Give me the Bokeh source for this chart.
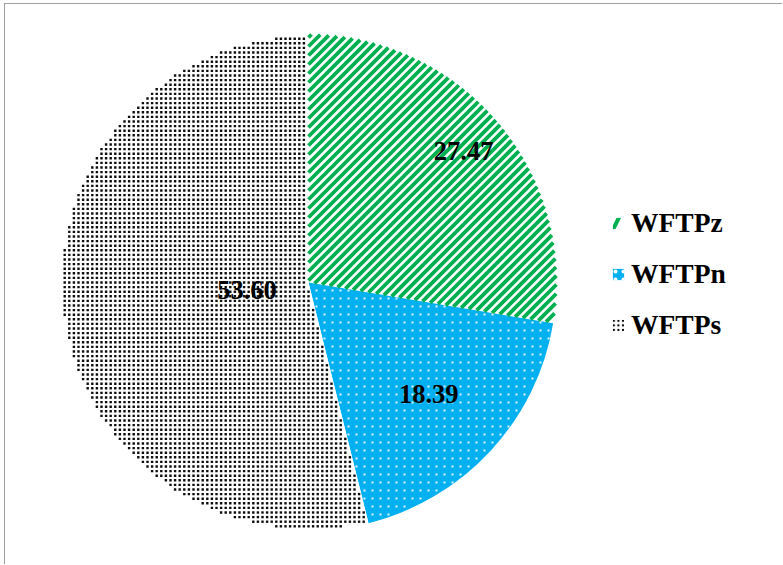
import math
from bokeh.plotting import figure
from bokeh.models import ColumnDataSource, Legend, LegendItem, Range1d
from bokeh.core.properties import value
from bokeh.embed import file_html
from bokeh.resources import INLINE

# ---- data ----
categories = ["WFTPz", "WFTPn", "WFTPs"]
values = [27.47, 18.39, 53.60]
labels = ["27.47", "18.39", "53.60"]

# ---- style ----
fills = ["white", "#00B0F0", "white"]
pattern_colors = ["#00B050", "white", "black"]
label_r_frac = [0.82, 0.66, 0.25]
stripe_period = 9.0
stripe_width = 3.8
blue_dot_period = 8.0
blue_dot_size = 2.0
gray_dot_period = 4.6
gray_dot_size = 2.4

W, H = 778, 561
cx, cy, R = 303, 283, 248

total = sum(values)
starts, ends, mids = [], [], []
cum = 0.0
for v in values:
    a0 = math.pi / 2 - 2 * math.pi * cum / total
    cum += v
    a1 = math.pi / 2 - 2 * math.pi * cum / total
    starts.append(a0)
    ends.append(a1)
    mids.append((a0 + a1) / 2)


def in_sector(dx, dy, a_hi, a_lo):
    th = math.atan2(dy, dx)
    while th < a_lo:
        th += 2 * math.pi
    while th >= a_lo + 2 * math.pi:
        th -= 2 * math.pi
    return th <= a_hi


def cross(u, d):
    return u[0] * d[1] - u[1] * d[0]


def stripes_in_sector(a_hi, a_lo, period):
    # 45-degree stripes (d.y - d.x = k) clipped to a convex sector
    us = (math.cos(a_hi), math.sin(a_hi))
    ue = (math.cos(a_lo), math.sin(a_lo))
    v = (1 / math.sqrt(2), 1 / math.sqrt(2))
    xs, ys = [], []
    kmax = R * math.sqrt(2)
    n = int(kmax // period) + 1
    for j in range(-n, n + 1):
        k = j * period + 2.0
        if abs(k) >= kmax:
            continue
        h = math.sqrt(R * R - k * k / 2)
        lo, hi = -h, h
        p0 = (-k / 2, k / 2)
        ok = True
        for a, b in ((cross(us, p0), cross(us, v)), (-cross(ue, p0), -cross(ue, v))):
            if abs(b) < 1e-12:
                if a > 0:
                    ok = False
            elif b > 0:
                hi = min(hi, -a / b)
            else:
                lo = max(lo, -a / b)
        if not ok or hi - lo < 0.5:
            continue
        xs.append([cx + p0[0] + lo * v[0], cx + p0[0] + hi * v[0]])
        ys.append([cy + p0[1] + lo * v[1], cy + p0[1] + hi * v[1]])
    return xs, ys


def dots_in_sector(a_hi, a_lo, period, size):
    xs, ys = [], []
    n = int(R // period) + 1
    for i in range(-n, n + 1):
        for j in range(-n, n + 1):
            dx, dy = i * period, j * period
            if math.hypot(dx, dy) > R - size * 0.6:
                continue
            if in_sector(dx, dy, a_hi, a_lo):
                ok = True
                for a in (a_hi, a_lo):
                    dist = abs(cross((math.cos(a), math.sin(a)), (dx, dy)))
                    proj = dx * math.cos(a) + dy * math.sin(a)
                    if proj > 0 and dist < size * 0.6:
                        ok = False
                if ok:
                    xs.append(cx + dx)
                    ys.append(cy + dy)
    return xs, ys


p = figure(width=W, height=H, output_backend="svg", toolbar_location=None,
           x_range=Range1d(0, W), y_range=Range1d(0, H), min_border=0,
           margin=(3, 0, 0, 4),
           styles={"border-top": "1px solid #A0A0A0", "border-left": "1px solid #A0A0A0"})
p.xaxis.visible = False
p.yaxis.visible = False
p.grid.visible = False
p.outline_line_color = None
p.background_fill_color = "white"
p.border_fill_color = "white"

# base wedges
for i, c in enumerate(categories):
    src = ColumnDataSource(dict(x=[cx], y=[cy], s=[starts[i]], e=[ends[i]]))
    p.wedge(x="x", y="y", radius=R, start_angle="s", end_angle="e",
            direction="clock", source=src, fill_color=fills[i], line_color=None)

# pattern fills
sx, sy = stripes_in_sector(starts[0], ends[0], stripe_period)
p.multi_line(xs=sx, ys=sy, line_color=pattern_colors[0], line_width=stripe_width,
             line_cap="butt")
bx, by = dots_in_sector(starts[1], ends[1], blue_dot_period, blue_dot_size)
p.rect(x=bx, y=by, width=blue_dot_size, height=blue_dot_size,
       fill_color=pattern_colors[1], fill_alpha=0.9, line_color=None)
gx, gy = dots_in_sector(starts[2], ends[2], gray_dot_period, gray_dot_size)
p.rect(x=gx, y=gy, width=gray_dot_size, height=gray_dot_size,
       fill_color=pattern_colors[2], fill_alpha=0.95, line_color=None)

# legend swatches (zero-radius wedges carrying the hatch for the legend only)
leg_hatch = ["/", ".", "."]
leg_scale = [30, 8, 4.6]
leg_weight = [4, 2, 1.5]
leg_renderers = []
for i, c in enumerate(categories):
    src = ColumnDataSource(dict(x=[cx], y=[cy], s=[starts[i]], e=[ends[i]]))
    r = p.wedge(x="x", y="y", radius=0, start_angle="s", end_angle="e",
                direction="clock", source=src, fill_color=fills[i], line_color=None,
                hatch_pattern=leg_hatch[i], hatch_color=pattern_colors[i],
                hatch_scale=leg_scale[i], hatch_weight=leg_weight[i])
    leg_renderers.append(r)

lx = [cx + R * f * math.cos(m) for f, m in zip(label_r_frac, mids)]
ly = [cy + R * f * math.sin(m) for f, m in zip(label_r_frac, mids)]
lsrc = ColumnDataSource(dict(x=lx, y=ly, t=labels))
p.text(x="x", y="y", text="t", source=lsrc, text_align="center",
       text_baseline="middle", text_font=value("Liberation Serif"),
       text_font_style="bold", text_font_size="26.5px", text_color="black")

legend = Legend(items=[LegendItem(label=c, renderers=[r]) for c, r in zip(categories, leg_renderers)],
                location=(606, 224), orientation="vertical",
                label_text_font="Liberation Serif", label_text_font_style="bold",
                label_text_font_size="27.5px", label_text_color="black",
                glyph_width=14, glyph_height=14, label_standoff=6,
                spacing=19, padding=0, margin=0,
                border_line_color=None, background_fill_alpha=0)
p.add_layout(legend, "center")

open("out.html", "w").write(file_html(p, INLINE))
